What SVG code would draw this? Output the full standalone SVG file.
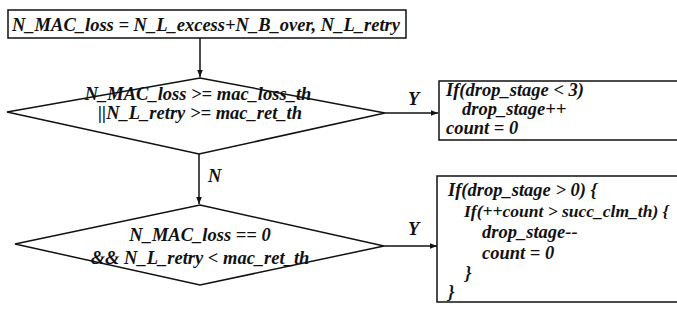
<svg xmlns="http://www.w3.org/2000/svg" width="677" height="320" viewBox="0 0 677 320">
<style>
.s{fill:#fff;stroke:#111;stroke-width:1.5}
.t{font-family:"Liberation Serif","Times New Roman",serif;font-weight:bold;font-style:italic;font-size:18.5px;fill:#111}
.c{stroke:#111;stroke-width:1.5;fill:none}
</style>
<defs>
<marker id="a" viewBox="0 0 10 10" refX="10" refY="5" markerWidth="7" markerHeight="7" markerUnits="userSpaceOnUse" orient="auto">
<path d="M0,1 L10,5 L0,9 z" fill="#111"/>
</marker>
</defs>
<rect width="677" height="320" fill="#fff"/>
<g id="connectors">
<line class="c" x1="200" y1="38" x2="200" y2="77" marker-end="url(#a)"/>
<line class="c" x1="385" y1="113" x2="438" y2="113" marker-end="url(#a)"/>
<line class="c" x1="199" y1="154" x2="199" y2="204" marker-end="url(#a)"/>
<line class="c" x1="384" y1="246" x2="437" y2="246" marker-end="url(#a)"/>
<text class="t" x="408" y="105">Y</text>
<text class="t" x="208" y="182">N</text>
<text class="t" x="408" y="235">Y</text>
</g>
<g id="init">
<rect class="s" x="8" y="10" width="398" height="28"/>
<text class="t" x="12" y="31">N_MAC_loss = N_L_excess+N_B_over, N_L_retry</text>
</g>
<g id="cond1">
<polygon class="s" points="200,78 385,113 199,154 7,112"/>
<text class="t" x="198" y="100" text-anchor="middle">N_MAC_loss &gt;= mac_loss_th</text>
<text class="t" x="200" y="119" text-anchor="middle">||N_L_retry &gt;= mac_ret_th</text>
</g>
<g id="cond2">
<polygon class="s" points="200,205 384,246 200,285 15,244"/>
<text class="t" x="200" y="241" text-anchor="middle">N_MAC_loss == 0</text>
<text class="t" x="200" y="264" text-anchor="middle">&amp;&amp; N_L_retry &lt; mac_ret_th</text>
</g>
<g id="act1">
<rect class="s" x="439" y="81" width="250" height="59"/>
<text class="t" x="446" y="96">If(drop_stage &lt; 3)</text>
<text class="t" x="462" y="115">drop_stage++</text>
<text class="t" x="446" y="134">count = 0</text>
</g>
<g id="act2">
<rect class="s" x="437" y="176" width="250" height="126"/>
<text class="t" x="448" y="196">If(drop_stage &gt; 0) {</text>
<text class="t" x="464" y="217" style="font-size:17.5px">If(++count &gt; succ_clm_th) {</text>
<text class="t" x="482" y="238">drop_stage--</text>
<text class="t" x="482" y="259">count = 0</text>
<text class="t" x="465" y="279">}</text>
<text class="t" x="448" y="298">}</text>
</g>
</svg>
